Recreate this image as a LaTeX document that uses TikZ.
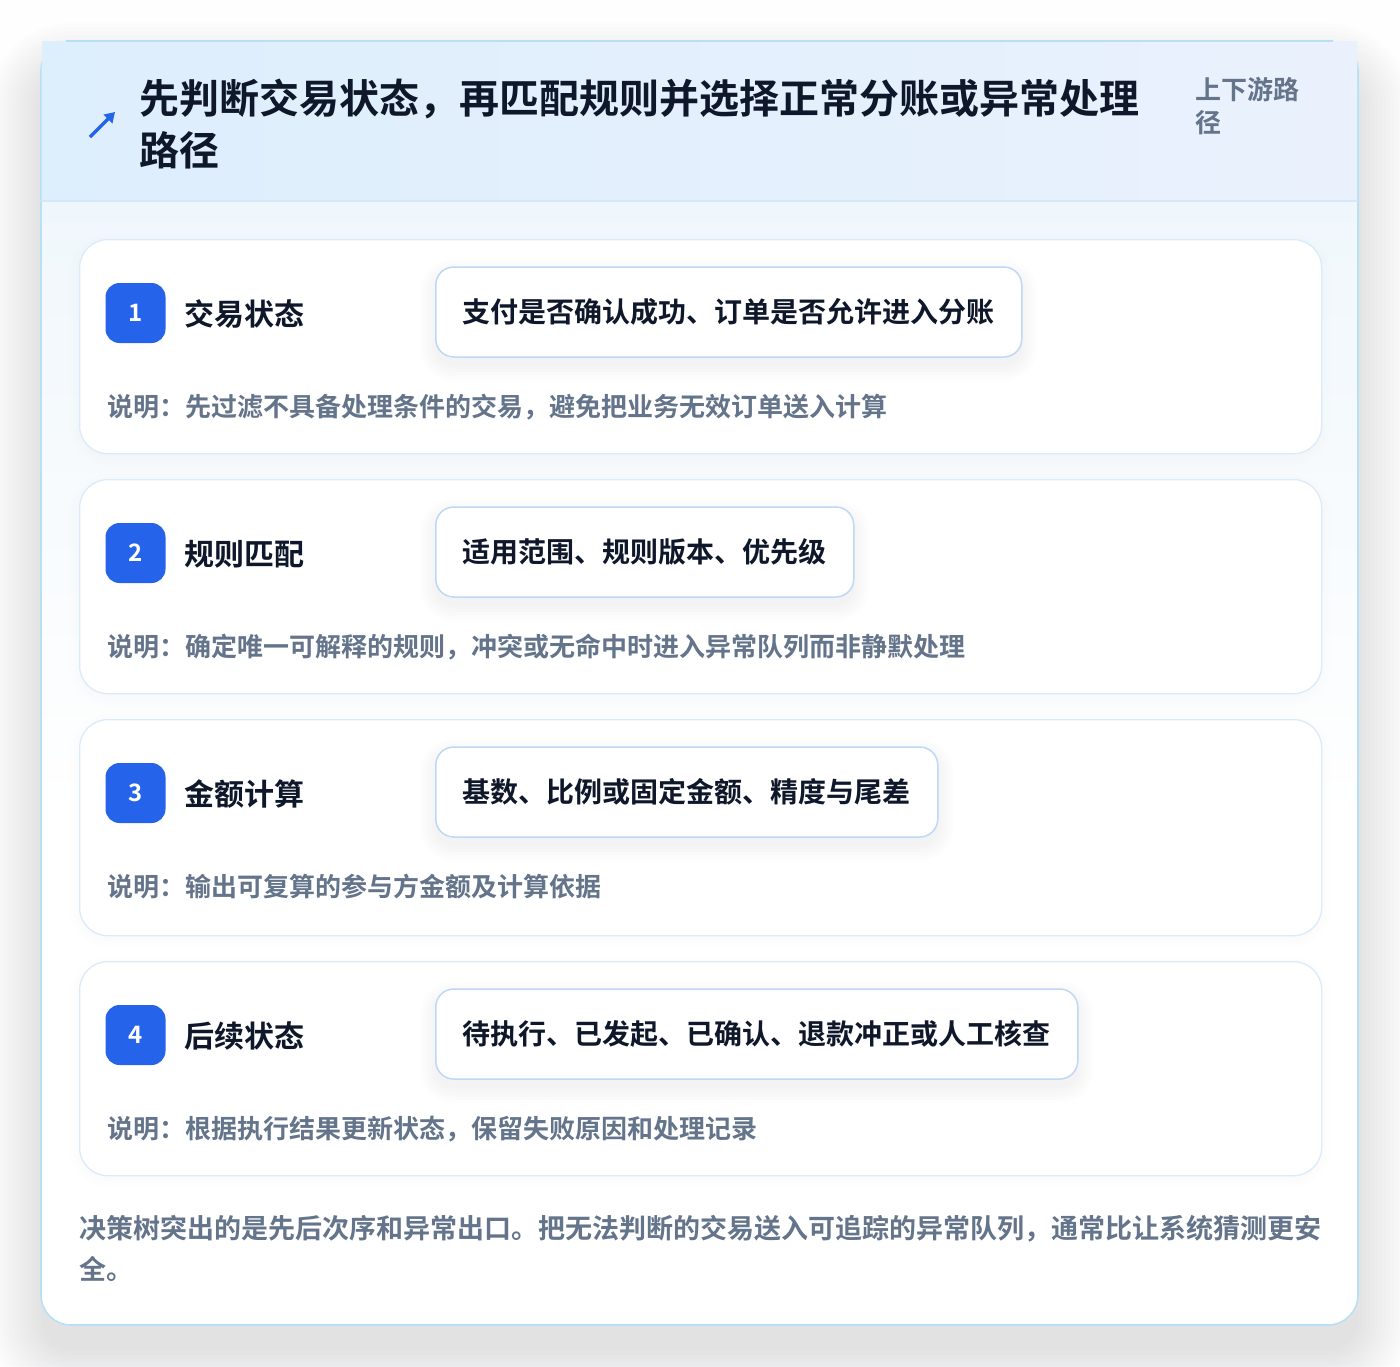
\documentclass[tikz,border=0pt]{standalone}
\usepackage{fontspec}
\setmainfont{Noto Sans CJK SC}[BoldFont={Noto Sans CJK SC Bold}]
\usetikzlibrary{arrows.meta}
\definecolor{pagebg}{HTML}{FEFEFE}
\definecolor{hdrL}{HTML}{DDEEFC}
\definecolor{hdrR}{HTML}{EAF1FD}
\definecolor{hdrline}{HTML}{D3E8F8}
\definecolor{bodyT}{HTML}{F0F7FC}
\definecolor{cardborder}{HTML}{B8E0F5}
\definecolor{stepborder}{HTML}{DCEBFA}
\definecolor{pillborder}{HTML}{BFD8F5}
\definecolor{ink}{HTML}{0F172A}
\definecolor{muted}{HTML}{64748B}
\definecolor{accent}{HTML}{2563EB}
\definecolor{shadowc}{HTML}{1E293B}
\tikzset{
  stepcard/.style={draw=stepborder, line width=1.3pt, fill=white, rounded corners=28pt,
    minimum width=1242pt, anchor=north west, inner sep=0pt},
  badge/.style={fill=accent, rounded corners=14pt, minimum size=60pt, inner sep=0pt,
    text=white, font=\fontsize{24}{28}\selectfont\bfseries},
  steptitle/.style={anchor=west, inner sep=0pt, text=ink, font=\fontsize{30}{34}\selectfont\bfseries},
  pill/.style={draw=pillborder, line width=1.5pt, fill=white, rounded corners=18pt,
    minimum height=90pt, inner xsep=27pt, inner ysep=0pt, anchor=west, text=ink,
    font=\fontsize{28}{32}\selectfont\bfseries},
  desc/.style={anchor=west, inner sep=0pt, text=muted, font=\fontsize{26}{30}\selectfont\bfseries},
}
\begin{document}
\begin{tikzpicture}[x=1pt,y=-1pt]
\useasboundingbox (0,0) rectangle (1400,1366);
\fill[pagebg] (0,0) rectangle (1400,1366);
% outer card shadow
\foreach \s in {0,4,...,52}{
  \fill[shadowc, opacity=0.0065, rounded corners=30pt+\s pt]
    (41-\s,41+34-\s) rectangle (1358+\s,1325+26+\s);
}
% outer card
\fill[white, rounded corners=30pt] (41,41) rectangle (1358,1325);
\begin{scope}
  \clip[rounded corners=30pt] (41,41) rectangle (1358,1325);
  \shade[top color=bodyT, bottom color=white] (41,201) rectangle (1358,820);
\end{scope}
\draw[cardborder, line width=1.6pt, rounded corners=30pt] (41,41) rectangle (1358,1325);
% header band (square corners, drawn over the card)
\shade[left color=hdrL, right color=hdrR] (41.8,41.8) rectangle (1357.2,201);
\draw[cardborder, line width=1.6pt] (66,41) -- (1333,41);
\draw[cardborder!70!hdrL, line width=1.2pt] (41.6,66) -- (41.6,201);
\draw[hdrline, line width=1.5pt] (41,201) -- (1358,201);
% header
\coordinate (arrowS) at (90,137);
\coordinate (arrowE) at (115,112);
\draw[accent, line width=3.5pt, -{Triangle[length=10pt,width=12pt]}] (arrowS) -- (arrowE);
\node[anchor=west, inner sep=0pt, align=left, text=ink,
  font=\fontsize{40}{52}\selectfont\bfseries] (title) at (139,124)
  {先判断交易状态，再匹配规则并选择正常分账或异常处理\\路径};
\node[anchor=west, inner sep=0pt, align=left, text=muted,
  font=\fontsize{26}{33}\selectfont\bfseries] (tag) at (1195,106) {上下游路\\径};
% steps
\foreach \i/\top/\h/\ttl/\pilltxt/\dsc in {
  1/239/214/交易状态/支付是否确认成功、订单是否允许进入分账/说明：先过滤不具备处理条件的交易，避免把业务无效订单送入计算,
  2/479/214/规则匹配/适用范围、规则版本、优先级/说明：确定唯一可解释的规则，冲突或无命中时进入异常队列而非静默处理,
  3/719/216/金额计算/基数、比例或固定金额、精度与尾差/说明：输出可复算的参与方金额及计算依据,
  4/961/214/后续状态/待执行、已发起、已确认、退款冲正或人工核查/说明：根据执行结果更新状态，保留失败原因和处理记录}{
  \foreach \s in {0,3,6,9}{
    \fill[shadowc, opacity=0.005, rounded corners=28pt+\s pt]
      (79-\s,\top+4-\s) rectangle (1321+\s,\top+\h+4+\s);
  }
  \node[stepcard, minimum height=\h pt] (card\i) at (79,\top) {};
  \node[badge] (badge\i) at (135.5,\top+74) {\i};
  \node[steptitle] (title\i) at (184,\top+75) {\ttl};
  \node[pill, opacity=0] (ghost\i) at (435,\top+73) {\pilltxt};
  \foreach \s in {0,3,...,15}{
    \fill[shadowc, opacity=0.009, rounded corners=18pt+\s pt]
      ([xshift=-\s pt, yshift=-8pt+\s pt]ghost\i.north west) rectangle
      ([xshift=\s pt, yshift=-8pt-\s pt]ghost\i.south east);
  }
  \node[pill] (pill\i) at (435,\top+73) {\pilltxt};
  \node[desc] (desc\i) at (107,\top+168) {\dsc};
}
% footer
\node[anchor=west, inner sep=0pt, align=left, text=muted,
  font=\fontsize{27}{41}\selectfont\bfseries] (footer) at (79,1248)
  {决策树突出的是先后次序和异常出口。把无法判断的交易送入可追踪的异常队列，通常比让系统猜测更安\\全。};
\end{tikzpicture}
\end{document}
